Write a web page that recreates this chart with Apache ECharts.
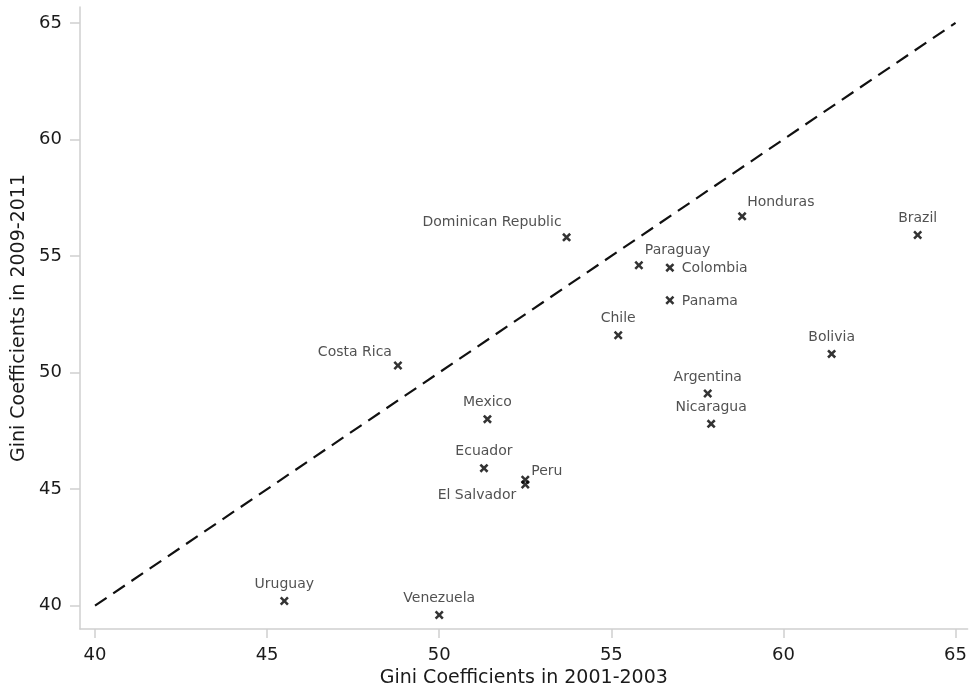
<!DOCTYPE html>
<html>
<head>
<meta charset="utf-8">
<script src="https://cdn.jsdelivr.net/npm/echarts@6/dist/echarts.min.js"></script>
<style>
html,body{margin:0;padding:0;background:#fff;}
#chart{width:970px;height:693px;}
</style>
</head>
<body>
<div id="chart"></div>
<script>
// Data
const countries = ["Uruguay","Venezuela","Costa Rica","Mexico","Ecuador","Peru","El Salvador","Dominican Republic","Chile","Paraguay","Colombia","Panama","Honduras","Argentina","Nicaragua","Bolivia","Brazil"];
const gini2001 = [45.5, 50.0, 48.8, 51.4, 51.3, 52.5, 52.5, 53.7, 55.2, 55.8, 56.7, 56.7, 58.8, 57.8, 57.9, 61.4, 63.9];
const gini2009 = [40.2, 39.6, 50.3, 48.0, 45.9, 45.4, 45.2, 55.8, 51.6, 54.6, 54.5, 53.1, 56.7, 49.1, 47.8, 50.8, 55.9];
const equalityLine = [[40, 40], [65, 65]];
const tickValues = [40, 45, 50, 55, 60, 65];
const xTitle = "Gini Coefficients in 2001-2003";
const yTitle = "Gini Coefficients in 2009-2011";

// label placement (style): [align, dx, dy] relative to marker centre
const labelPlace = {
  "Costa Rica": ["right", -6, -13.5],
  "Dominican Republic": ["right", -5, -15],
  "El Salvador": ["right", -9, 11],
  "Peru": ["left", 6, -8.5],
  "Paraguay": ["left", 6, -15],
  "Colombia": ["left", 12, 1],
  "Panama": ["left", 12, 1.5],
  "Honduras": ["left", 5, -14]
};

const FONT = "DejaVu Sans";
const SYM = 9;
const xMark = 'path://M0,2L2,0L5,3L8,0L10,2L7,5L10,8L8,10L5,7L2,10L0,8L3,5Z';

const points = countries.map((c, i) => {
  const p = labelPlace[c] || ["center", 0, -16.5];
  return {
    name: c,
    value: [gini2001[i], gini2009[i]],
    label: {
      show: true,
      formatter: c,
      position: [SYM / 2 + p[1], SYM / 2 + p[2]],
      align: p[0],
      verticalAlign: 'middle'
    }
  };
});

const chart = echarts.init(document.getElementById('chart'), null, {renderer: 'canvas'});
chart.setOption({
  animation: false,
  backgroundColor: '#fff',
  grid: {left: 80, right: 2, top: 7, bottom: 62, containLabel: false},
  xAxis: {
    type: 'value',
    min: 39.564, max: 65.35,
    splitLine: {show: false},
    axisLine: {show: true, lineStyle: {color: '#cfcfcf', width: 1.5}},
    axisTick: {show: true, length: 9, customValues: tickValues, lineStyle: {color: '#cfcfcf', width: 1.5}},
    axisLabel: {customValues: tickValues, margin: 17, fontFamily: FONT, fontSize: 18, color: '#1a1a1a'},
    name: xTitle,
    nameLocation: 'middle',
    nameGap: 36,
    nameTextStyle: {fontFamily: FONT, fontSize: 19, color: '#1a1a1a'}
  },
  yAxis: {
    type: 'value',
    min: 38.995, max: 65.68,
    splitLine: {show: false},
    axisLine: {show: true, lineStyle: {color: '#cfcfcf', width: 1.5}},
    axisTick: {show: true, length: 10, customValues: tickValues, lineStyle: {color: '#cfcfcf', width: 1.5}},
    axisLabel: {customValues: tickValues, margin: 18, fontFamily: FONT, fontSize: 18, color: '#1a1a1a'},
    name: yTitle,
    nameLocation: 'middle',
    nameGap: 45,
    nameTextStyle: {fontFamily: FONT, fontSize: 19, color: '#1a1a1a'}
  },
  series: [
    {
      type: 'line',
      data: equalityLine,
      symbol: 'none',
      lineStyle: {color: '#111', width: 2.2, type: [14, 8]},
      silent: true,
      z: 1
    },
    {
      type: 'scatter',
      data: points,
      symbol: xMark,
      symbolSize: SYM,
      itemStyle: {color: '#000'},
      label: {fontFamily: FONT, fontSize: 14, color: '#262626'},
      labelLayout: {hideOverlap: false},
      z: 2
    }
  ]
});
</script>
</body>
</html>
